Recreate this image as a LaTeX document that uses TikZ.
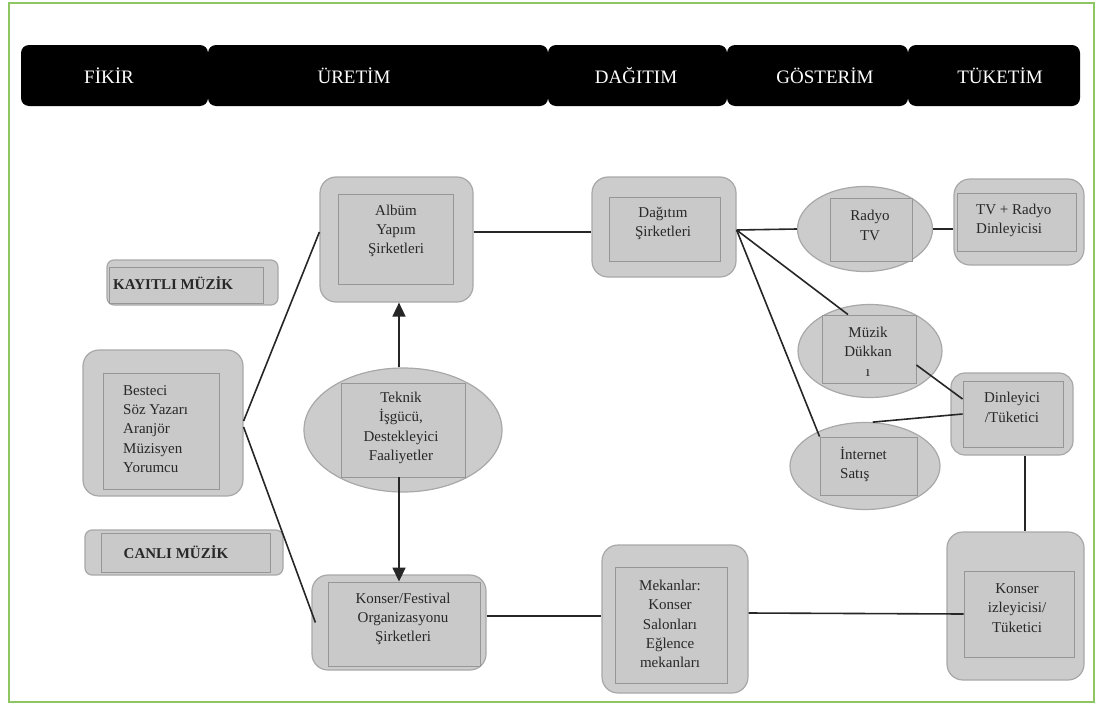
\documentclass[tikz,border=0pt]{standalone}
\usepackage{fontspec}
\setmainfont{Liberation Serif}
\usetikzlibrary{arrows.meta,calc,shapes.geometric}
\definecolor{frame}{RGB}{141,198,99}
\definecolor{boxfill}{RGB}{204,204,204}
\definecolor{boxline}{RGB}{168,168,168}
\definecolor{innerfill}{RGB}{201,201,201}
\definecolor{innerline}{RGB}{150,150,150}
\definecolor{txt}{RGB}{40,40,40}
\begin{document}
\begin{tikzpicture}[x=1pt,y=-1pt,
  obox/.style={draw=boxline,fill=boxfill,rounded corners=16pt,line width=1.2pt,inner sep=0pt},
  tagbox/.style={draw=boxline,fill=boxfill,rounded corners=7pt,line width=1.2pt,inner sep=0pt},
  ibox/.style={draw=innerline,fill=innerfill,line width=0.9pt,inner sep=0pt},
  oval/.style={ellipse,draw=boxline,fill=boxfill,line width=1.2pt,inner sep=0pt},
  hbar/.style={fill=black,rounded corners=8pt,inner sep=0pt,minimum height=61pt},
  htext/.style={text=white,font=\fontsize{19}{19}\selectfont,inner sep=0pt},
  lbl/.style={text=txt,align=center,font=\fontsize{15}{19.3}\selectfont,inner sep=0pt},
  lbll/.style={lbl,align=left},
  tagtext/.style={text=txt,font=\bfseries\fontsize{15}{18}\selectfont,inner sep=0pt},
  conn/.style={draw=black!85,line width=1.6pt},
  arr/.style={conn,-{Triangle[width=13pt,length=14pt]}}
]
\useasboundingbox (0,0) rectangle (1097,704);
\draw[frame,line width=2pt] (9,3) rectangle (1094,702);

% header bars
\node[hbar,minimum width=187pt] (hfikir) at (114.5,75.5) {};
\node[hbar,minimum width=340pt] (huretim) at (378,75.5) {};
\node[hbar,minimum width=179pt] (hdagitim) at (637.5,75.5) {};
\node[hbar,minimum width=181pt] (hgosterim) at (817.5,75.5) {};
\node[hbar,minimum width=172pt] (htuketim) at (994,75.5) {};
\node[htext] (tfikir) at (109,76) {FİKİR};
\node[htext] (turetim) at (354,76) {ÜRETİM};
\node[htext] (tdagitim) at (636,76) {DAĞITIM};
\node[htext] (tgosterim) at (825,76) {GÖSTERİM};
\node[htext] (ttuketim) at (1000,76) {TÜKETİM};

% tags
\node[tagbox,minimum width=171pt,minimum height=45pt] (kayitlio) at (192.5,282.5) {};
\node[ibox,minimum width=154pt,minimum height=36pt] (kayitlii) at (186,285) {};
\node[tagtext,anchor=west] (kayitlit) at (113,283) {KAYITLI MÜZİK};
\node[tagbox,minimum width=198pt,minimum height=45pt] (canlio) at (184,552.5) {};
\node[ibox,minimum width=169pt,minimum height=39pt] (canlii) at (185.5,552.5) {};
\node[tagtext] (canlit) at (176,552) {CANLI MÜZİK};

% Besteci
\node[obox,minimum width=160pt,minimum height=146pt] (besteci) at (163,423) {};
\node[ibox,minimum width=116pt,minimum height=116pt] (bestecii) at (161,431) {};
\node[lbll,anchor=west] (bestecit) at (123,429) {Besteci\\Söz Yazarı\\Aranjör\\Müzisyen\\Yorumcu};

% Album
\node[obox,minimum width=153pt,minimum height=125pt] (albumo) at (396.5,239.5) {};
\node[ibox,minimum width=115pt,minimum height=90pt] (albumi) at (395.5,239) {};
\node[lbl] (albumt) at (396,231) {Albüm\\Yapım\\Şirketleri};

% Teknik
\node[oval,minimum width=198pt,minimum height=124pt] (teknik) at (403,430) {};
\node[ibox,minimum width=124pt,minimum height=94pt] (tekniki) at (403,430) {};
\node[lbl] (teknikt) at (401,428) {Teknik\\İşgücü,\\Destekleyici\\Faaliyetler};

% Konser/Festival
\node[obox,minimum width=174pt,minimum height=95pt] (konsero) at (399,622.5) {};
\node[ibox,minimum width=152pt,minimum height=84pt] (konseri) at (404,624) {};
\node[lbl] (konsert) at (403,619) {Konser/Festival\\Organizasyonu\\Şirketleri};

% Dagitim
\node[obox,minimum width=144pt,minimum height=100pt] (dagitimo) at (664,227) {};
\node[ibox,minimum width=111pt,minimum height=64pt] (dagitimi) at (664.5,229) {};
\node[lbl] (dagitimt) at (663,223.5) {Dağıtım\\Şirketleri};

% Mekanlar
\node[obox,minimum width=146pt,minimum height=148pt] (mekano) at (675,619) {};
\node[ibox,minimum width=112pt,minimum height=116pt] (mekani) at (671,625) {};
\node[lbl] (mekant) at (670,624) {Mekanlar:\\Konser\\Salonları\\Eğlence\\mekanları};

% Radyo TV
\node[oval,minimum width=135pt,minimum height=85pt] (radyo) at (865,229) {};
\node[ibox,minimum width=82pt,minimum height=63pt] (radyoi) at (871,229.5) {};
\node[lbl] (radyot) at (870,225.5) {Radyo\\TV};

% TV + Radyo Dinleyicisi
\node[obox,minimum width=130pt,minimum height=86pt] (tvro) at (1019,222) {};
\node[ibox,minimum width=119pt,minimum height=58pt] (tvri) at (1016.5,222) {};
\node[lbll,anchor=west] (tvrt) at (976,220.5) {TV + Radyo\\Dinleyicisi};

% Muzik Dukkani
\node[oval,minimum width=144pt,minimum height=93pt] (muzik) at (870,351) {};
\node[ibox,minimum width=94pt,minimum height=68pt] (muziki) at (869,349) {};
\node[lbl] (muzikt) at (868,351.5) {Müzik\\Dükkan\\ı};

% Internet
\node[oval,minimum width=150pt,minimum height=87pt] (internet) at (865,466) {};
\node[ibox,minimum width=97pt,minimum height=58pt] (interneti) at (868.5,466) {};
\node[lbll,anchor=west] (internett) at (840,464.5) {İnternet\\Satış};

% Dinleyici
\node[obox,rounded corners=14pt,minimum width=122pt,minimum height=82pt] (dinleyicio) at (1012,414) {};
\node[ibox,minimum width=100pt,minimum height=66pt] (dinleyicii) at (1013,414) {};
\node[lbl] (dinleyicit) at (1012,407.5) {Dinleyici\\/Tüketici};

% Konser izleyicisi
\node[obox,minimum width=137pt,minimum height=148pt] (kizleo) at (1015.5,606) {};
\node[ibox,minimum width=110pt,minimum height=86pt] (kizlei) at (1019,614) {};
\node[lbl] (kizlet) at (1017,608) {Konser\\izleyicisi/\\Tüketici};

% connectors
\draw[conn] ([yshift=2pt]besteci.east) -- ([yshift=7.5pt]albumo.west);
\draw[conn] ([yshift=-4pt]besteci.east) -- ([xshift=4pt]konsero.west);
\draw[arr] ([xshift=-4pt]teknik.north) -- ([xshift=-4pt]teknik.north |- albumo.south);
\draw[arr] ([xshift=-4pt]tekniki.south) -- ([xshift=-4pt]tekniki.south |- konseri.north);
\draw[conn] ([yshift=7.5pt]albumo.east) -- ([yshift=7.5pt]albumo.east -| dagitimo.west);
\draw[conn] ([yshift=6.5pt]konsero.east) -- ([yshift=6.5pt]konsero.east -| mekano.west);
\draw[conn] ([yshift=6pt]mekano.east) -- (kizlei.west);
\draw[conn] ([yshift=-3pt]dagitimo.east) -- (radyo.west);
\draw[conn] ([yshift=-3pt]dagitimo.east) -- ([xshift=-21pt]muziki.north);
\draw[conn] ([yshift=-3pt]dagitimo.east) -- (interneti.north west);
\draw[conn] (radyo.east) -- (radyo.east -| tvro.west);
\draw[conn] ([yshift=-16pt]muziki.east) -- ([yshift=15pt]dinleyicii.west);
\draw[conn] (dinleyicii.west) -- (internet.80);
\draw[conn] ([xshift=13pt]dinleyicio.south) -- ([xshift=13pt]dinleyicio.south |- kizleo.north);
\end{tikzpicture}
\end{document}
